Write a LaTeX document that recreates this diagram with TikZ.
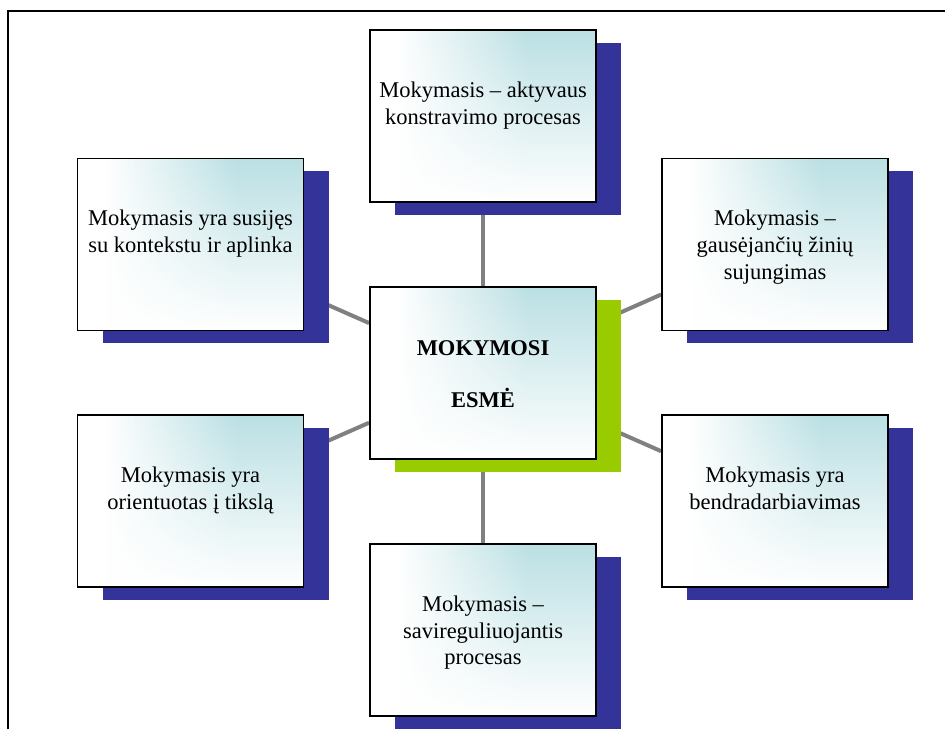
\documentclass[tikz,border=0pt]{standalone}
\usepackage{fontspec}
\setmainfont{Liberation Serif}
\usetikzlibrary{fadings}
\definecolor{boxcyan}{RGB}{187,224,228}
\definecolor{navy}{RGB}{51,51,153}
\definecolor{lime}{RGB}{153,204,0}
\definecolor{linkgray}{RGB}{128,128,128}
\pgfdeclarehorizontalshading{boxh}{100bp}{color(0bp)=(white); color(31bp)=(white); color(60bp)=(boxcyan); color(100bp)=(boxcyan)}
\tikzfading[name=boxfade, top color=transparent!100, bottom color=transparent!0]
\pgfdeclarelayer{bg}
\pgfsetlayers{bg,main}
\begin{document}
\begin{tikzpicture}[x=1pt,y=-1pt,
  card/.style={draw=black, line width=1.8pt, minimum width=226pt, minimum height=172pt, inner sep=0pt,
    shade, shading=boxh,
    path picture={\fill[white, path fading=boxfade] (path picture bounding box.south west) rectangle (path picture bounding box.north east);}},
  txt/.style={anchor=north, align=center, inner sep=0pt, font=\fontsize{22.5}{26.7}\selectfont},
  ctxt/.style={anchor=north, align=center, inner sep=0pt, font=\fontsize{22.5}{52}\selectfont\bfseries},
  shadowbox/.style={fill=#1, minimum width=226pt, minimum height=172pt, inner sep=0pt},
  link/.style={draw=linkgray, line width=4pt}]
\useasboundingbox (0,0) rectangle (945,729);
% frame
\draw[line width=2pt] (8,729) -- (8,11) -- (945,11);
% boxes
\node[card] (T)  at (483,116) {};
\node[card] (LT) at (190.5,244.5) {};
\node[card] (RT) at (775,244.5) {};
\node[card] (C)  at (483,373) {};
\node[card] (LB) at (190.5,501) {};
\node[card] (RB) at (775,501) {};
\node[card] (B)  at (483,630) {};
% texts
\node[txt] (tT)  at ([yshift=-51pt]T.north)  {\rule{0pt}{17pt}Mokymasis – aktyvaus\\konstravimo procesas};
\node[txt] (tLT) at ([yshift=-51pt]LT.north) {\rule{0pt}{17pt}Mokymasis yra susijęs\\su kontekstu ir aplinka};
\node[txt] (tRT) at ([yshift=-51pt]RT.north) {\rule{0pt}{17pt}Mokymasis –\\gausėjančių žinių\\sujungimas};
\node[txt] (tLB) at ([yshift=-51pt]LB.north) {\rule{0pt}{17pt}Mokymasis yra\\orientuotas į tikslą};
\node[txt] (tRB) at ([yshift=-51pt]RB.north) {\rule{0pt}{17pt}Mokymasis yra\\bendradarbiavimas};
\node[txt] (tB)  at ([yshift=-51pt]B.north)  {\rule{0pt}{17pt}Mokymasis –\\savireguliuojantis\\procesas};
\node[ctxt] (tC) at ([yshift=-52pt]C.north)  {\rule{0pt}{17pt}MOKYMOSI\\ESMĖ};
\begin{pgfonlayer}{bg}
  \draw[link] (C) -- (T);
  \draw[link] (C) -- (B);
  \draw[link] (C) -- (LT);
  \draw[link] (C) -- (RT);
  \draw[link] (C) -- (LB);
  \draw[link] (C) -- (RB);
  \node[shadowbox=navy] (sT)  at ([shift={(25,12.5)}]T.center) {};
  \node[shadowbox=navy] (sLT) at ([shift={(25,12.5)}]LT.center) {};
  \node[shadowbox=navy] (sRT) at ([shift={(25,12.5)}]RT.center) {};
  \node[shadowbox=lime] (sC)  at ([shift={(25,12.5)}]C.center) {};
  \node[shadowbox=navy] (sLB) at ([shift={(25,12.5)}]LB.center) {};
  \node[shadowbox=navy] (sRB) at ([shift={(25,12.5)}]RB.center) {};
  \node[shadowbox=navy] (sB)  at ([shift={(25,12.5)}]B.center) {};
\end{pgfonlayer}
\end{tikzpicture}
\end{document}
